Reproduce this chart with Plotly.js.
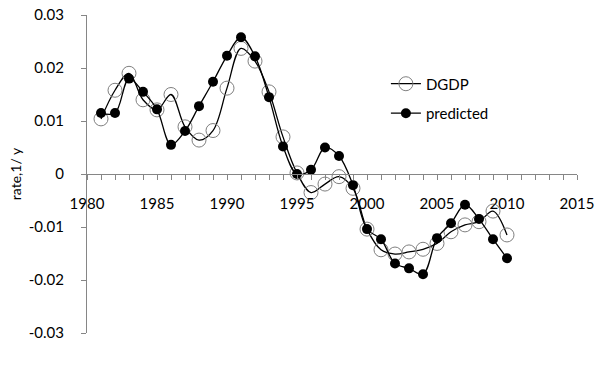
<!DOCTYPE html>
<html>
<head>
<meta charset="utf-8">
<script src="https://cdn.plot.ly/plotly-3.0.1.min.js"></script>
<style>html,body{margin:0;padding:0;background:#fff;}#chart{width:602px;height:379px;}</style>
</head>
<body>
<div id="chart"></div>
<script>
const years = [1981,1982,1983,1984,1985,1986,1987,1988,1989,1990,1991,1992,1993,1994,1995,1996,1997,1998,1999,2000,2001,2002,2003,2004,2005,2006,2007,2008,2009,2010];
const dgdp = [0.0104,0.0158,0.0190,0.0140,0.0121,0.0150,0.0089,0.0064,0.0082,0.0162,0.0237,0.0213,0.0155,0.0070,0.0002,-0.0035,-0.0019,-0.0005,-0.0027,-0.0104,-0.0143,-0.0151,-0.0147,-0.0142,-0.0131,-0.0109,-0.0096,-0.0090,-0.0070,-0.0115];
const predicted = [0.0115,0.0115,0.0180,0.0155,0.0122,0.0055,0.0081,0.0128,0.0174,0.0223,0.0258,0.0222,0.0145,0.0052,0.0000,0.0008,0.0050,0.0034,-0.0021,-0.0104,-0.0123,-0.0169,-0.0178,-0.0189,-0.0121,-0.0093,-0.0058,-0.0085,-0.0123,-0.0159];
const yTickVals = [-0.03,-0.02,-0.01,0,0.01,0.02,0.03];
const yTickText = ['-0.03','-0.02','-0.01','0','0.01','0.02','0.03'];
const xTickVals = [1980,1985,1990,1995,2000,2005,2010,2015];

const font = {family: 'Lato, "Open Sans", sans-serif', size: 15, color: '#000'};

const traces = [
  {x: years, y: dgdp, name: 'DGDP', legendgroup: 'a', mode: 'lines+markers', type: 'scatter',
   line: {color: '#000', width: 1.3, shape: 'spline', smoothing: 1},
   marker: {symbol: 'circle-open', size: 14, color: '#7f7f7f', line: {width: 1, color: '#7f7f7f'}}},
  {x: years, y: predicted, name: 'predicted', legendgroup: 'b', mode: 'lines+markers', type: 'scatter',
   line: {color: '#000', width: 1.3, shape: 'spline', smoothing: 1},
   marker: {symbol: 'circle', size: 10, color: '#000'}}
];

const layout = {
  width: 602, height: 379,
  margin: {l: 87, r: 25, t: 15, b: 46},
  paper_bgcolor: '#fff', plot_bgcolor: '#fff',
  font: font,
  showlegend: true,
  legend: {x: 0.61, y: 0.835, xanchor: 'left', yanchor: 'top', font: font,
           bgcolor: 'rgba(0,0,0,0)', itemwidth: 30, traceorder: 'grouped', tracegroupgap: 7},
  xaxis: {range: [1980, 2015], tickvals: xTickVals, ticktext: xTickVals.map(String),
          anchor: 'free', position: 0.5, showgrid: false, zeroline: false,
          showline: true, linecolor: '#868686', linewidth: 1,
          ticks: 'outside', ticklen: 5, tickcolor: '#868686', ticklabelstandoff: 11,
          minor: {dtick: 1, tick0: 1980, ticks: 'outside', ticklen: 5, tickcolor: '#868686', showgrid: false},
          tickfont: font},
  yaxis: {range: [-0.03, 0.03], tickvals: yTickVals, ticktext: yTickText,
          showgrid: false, zeroline: false, showline: true, linecolor: '#868686', linewidth: 1,
          ticks: 'outside', ticklen: 5, tickcolor: '#868686', ticklabelstandoff: 14,
          tickfont: font,
          title: {text: 'rate,1/ y', font: {family: font.family, size: 14, color: '#000'}, standoff: 3}}
};

Plotly.newPlot('chart', traces, layout, {displayModeBar: false, staticPlot: true});
</script>
</body>
</html>
